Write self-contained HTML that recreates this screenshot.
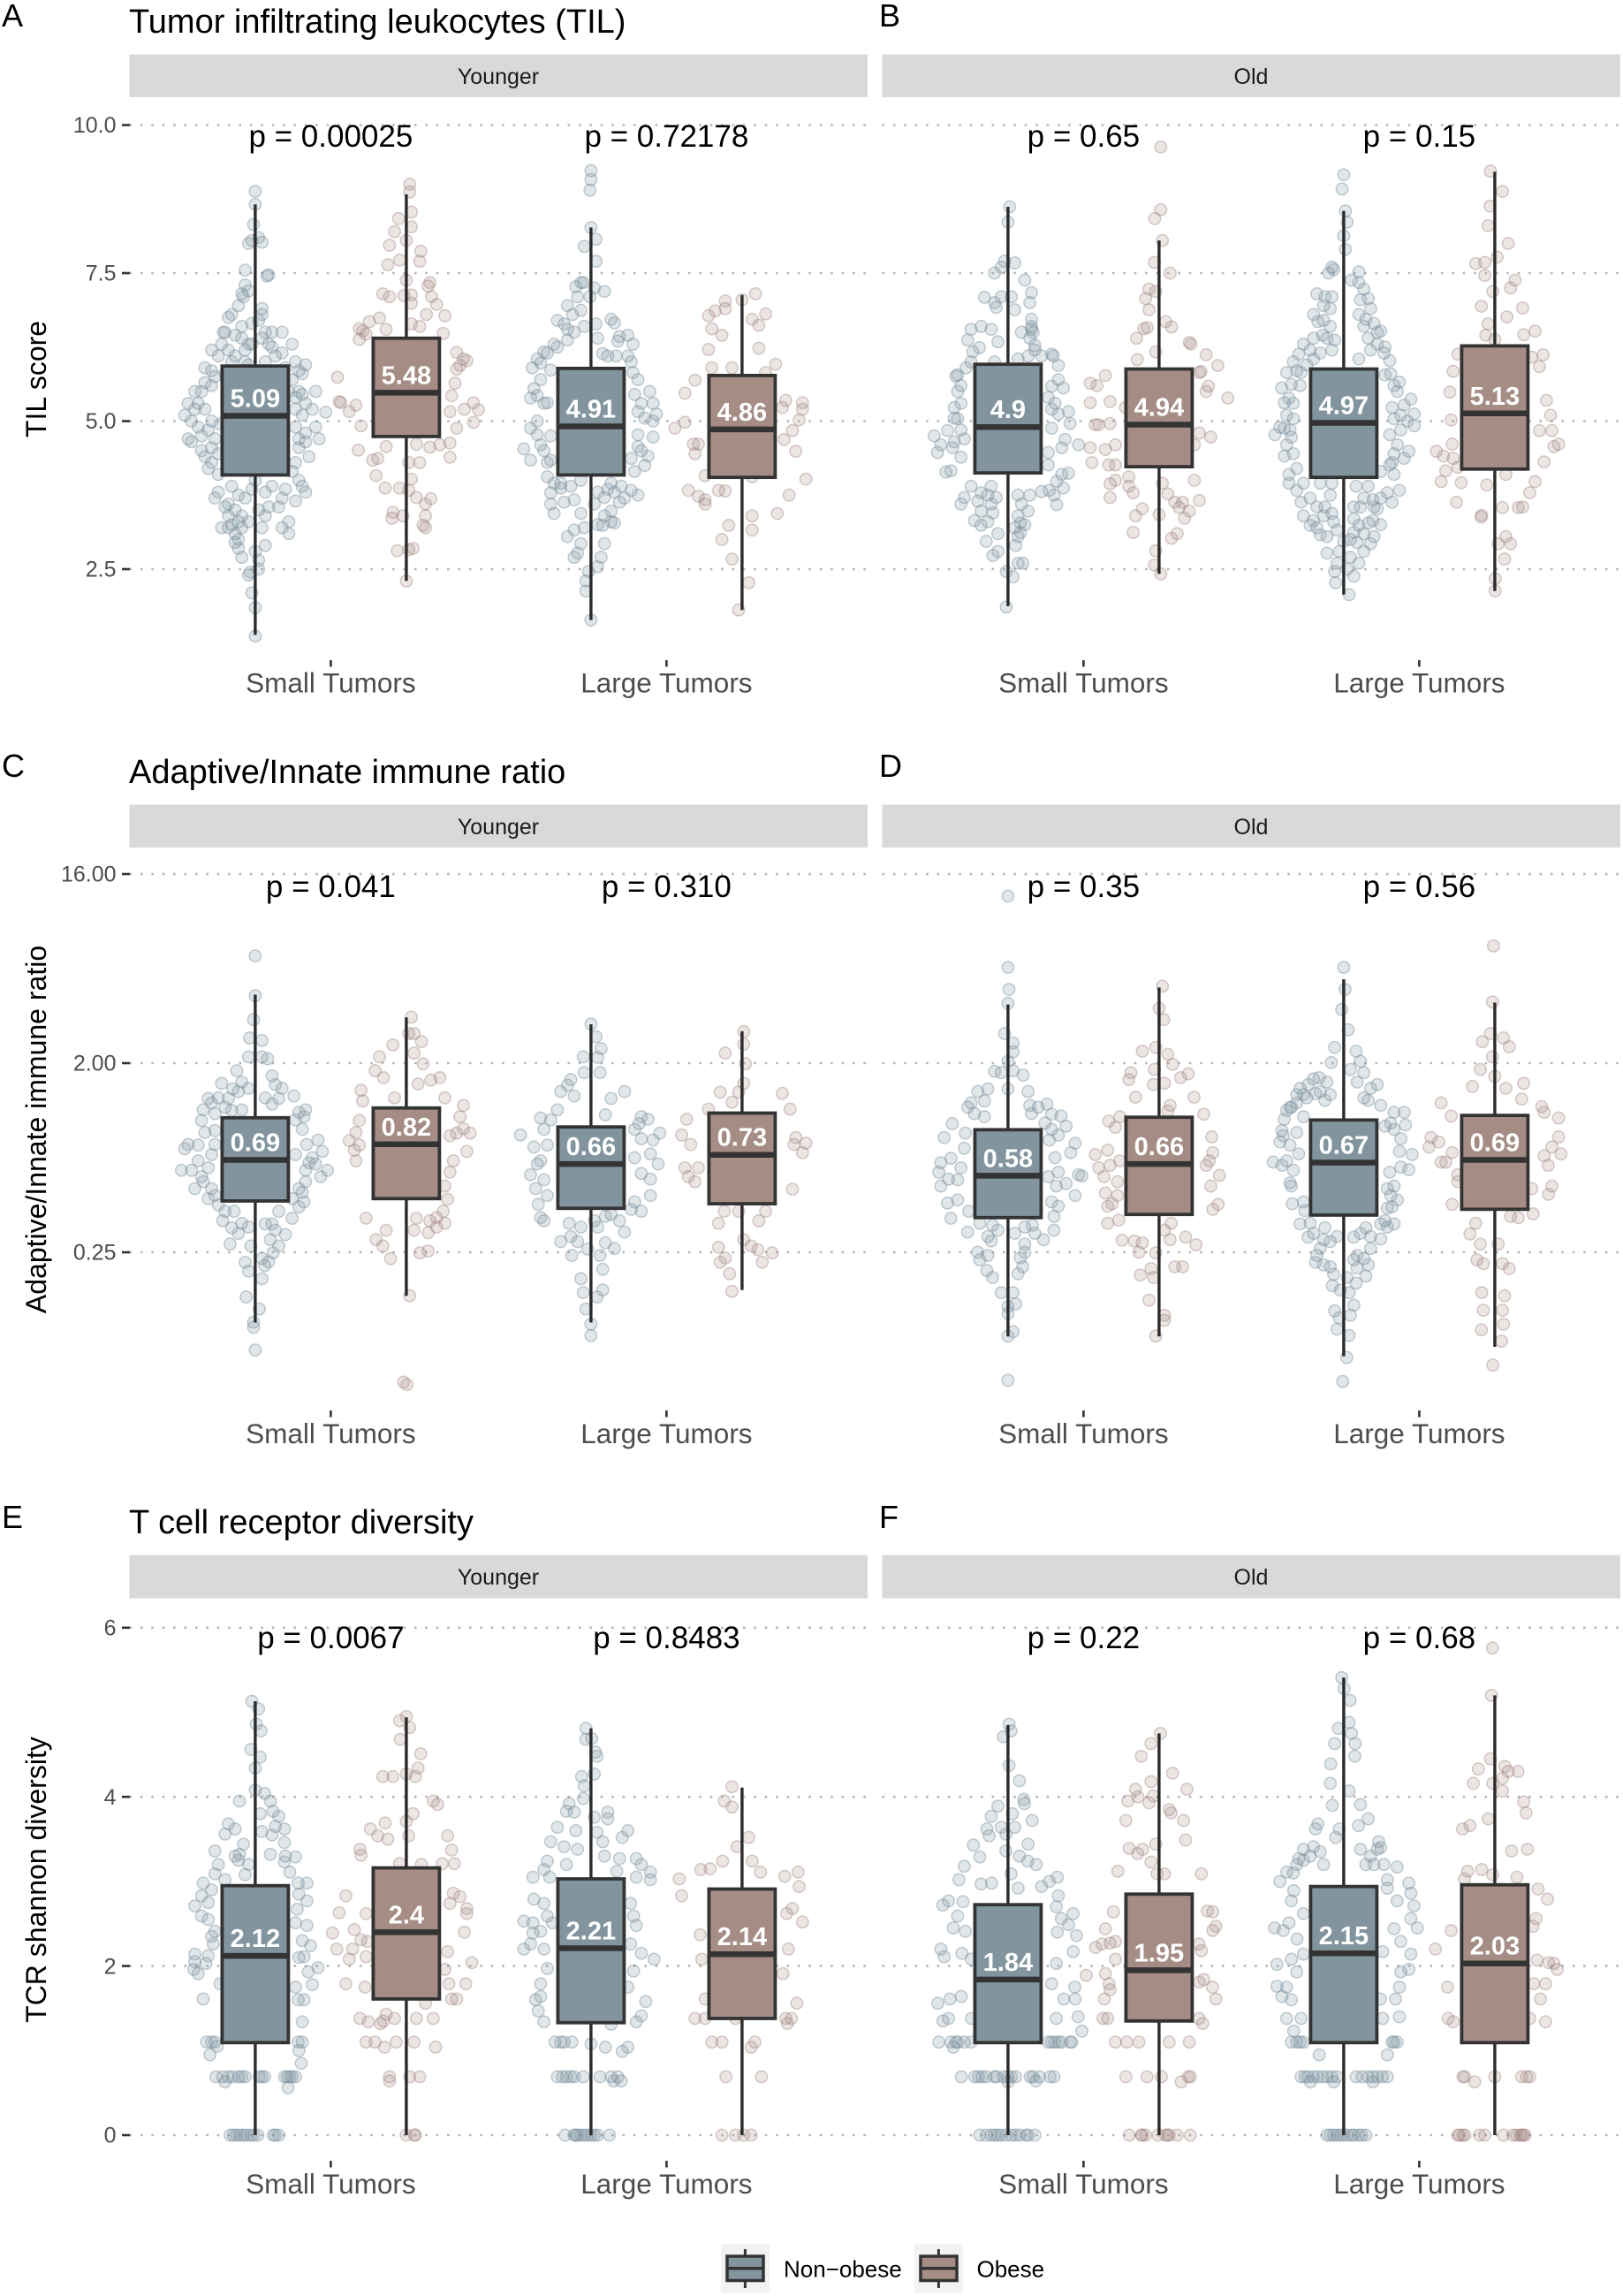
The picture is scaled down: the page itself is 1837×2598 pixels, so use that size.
<!DOCTYPE html>
<html lang="en">
<head>
<meta charset="utf-8">
<title>TIL, immune ratio and TCR diversity by obesity</title>
<style>
html,body{margin:0;padding:0;background:#fff}
svg{display:block}
text{font-family:"Liberation Sans",sans-serif}
</style>
</head>
<body>
<svg id="chart" width="1837" height="2598" viewBox="0 0 1837 2598">
<rect x="0" y="0" width="1837" height="2598" fill="#fff"/>
<g font-size="36" fill="#000">
<text x="2" y="30">A</text>
<text x="995" y="30">B</text>
<text x="2" y="879">C</text>
<text x="995" y="879">D</text>
<text x="2" y="1729">E</text>
<text x="995" y="1729">F</text>
</g>
<g font-size="38" fill="#000">
<text x="146" y="37">Tumor infiltrating leukocytes (TIL)</text>
<text x="146" y="886">Adaptive/Innate immune ratio</text>
<text x="146" y="1735">T cell receptor diversity</text>
</g>
<g font-size="25" fill="#1a1a1a" text-anchor="middle">
<rect x="146.5" y="61.5" width="835.5" height="48.5" fill="#d9d9d9"/>
<rect x="998.5" y="61.5" width="835.5" height="48.5" fill="#d9d9d9"/>
<text x="564" y="95">Younger</text>
<text x="1416" y="95">Old</text>
<rect x="146.5" y="910.5" width="835.5" height="48.5" fill="#d9d9d9"/>
<rect x="998.5" y="910.5" width="835.5" height="48.5" fill="#d9d9d9"/>
<text x="564" y="944">Younger</text>
<text x="1416" y="944">Old</text>
<rect x="146.5" y="1759.5" width="835.5" height="49" fill="#d9d9d9"/>
<rect x="998.5" y="1759.5" width="835.5" height="49" fill="#d9d9d9"/>
<text x="564" y="1793">Younger</text>
<text x="1416" y="1793">Old</text>
</g>
<g font-size="32" fill="#000" text-anchor="middle">
<text transform="translate(52,429) rotate(-90)">TIL score</text>
<text transform="translate(52,1278) rotate(-90)">Adaptive/Innate immune ratio</text>
<text transform="translate(52,2127) rotate(-90)">TCR shannon diversity</text>
</g>
<g id="plots"></g>
<g>
<g>
<rect x="816" y="2539.5" width="55" height="55" fill="#f2f2f2"/>
<line x1="843.4" x2="843.4" y1="2545" y2="2589" stroke="#333" stroke-width="3"/>
<rect x="823" y="2553" width="41" height="27.5" fill="#82959f" stroke="#333" stroke-width="3.5"/>
<line x1="823" x2="864" y1="2566.7" y2="2566.7" stroke="#333" stroke-width="3.5"/>
<text x="887" y="2576.5" font-size="26" fill="#000">Non−obese</text>
</g>
<g>
<rect x="1035" y="2539.5" width="55" height="55" fill="#f2f2f2"/>
<line x1="1062.4" x2="1062.4" y1="2545" y2="2589" stroke="#333" stroke-width="3"/>
<rect x="1042" y="2553" width="41" height="27.5" fill="#a58d85" stroke="#333" stroke-width="3.5"/>
<line x1="1042" x2="1083" y1="2566.7" y2="2566.7" stroke="#333" stroke-width="3.5"/>
<text x="1105.5" y="2576.5" font-size="26" fill="#000">Obese</text>
</g>
</g>
</svg>
<script>
// ---------- categories and axis labels ----------
const categories = ['Small Tumors', 'Large Tumors'];
const tilTicks = [2.5, 5, 7.5, 10];
const tilTickLabels = ['2.5', '5.0', '7.5', '10.0'];
const ratioTicks = [-2, 1, 4]; // log2 units
const ratioTickLabels = ['0.25', '2.00', '16.00'];
const tcrTicks = [0, 2, 4, 6];
const tcrTickLabels = ['0', '2', '4', '6'];

// ---------- summary values; order: small non-obese, small obese, large non-obese, large obese ----------
const tilYoungerMedians = [5.09, 5.48, 4.91, 4.86];
const tilYoungerQ1 = [4.09, 4.74, 4.09, 4.05];
const tilYoungerQ3 = [5.93, 6.40, 5.89, 5.77];
const tilYoungerLow = [1.39, 2.30, 1.64, 1.81];
const tilYoungerHigh = [8.66, 8.83, 8.27, 7.13];
const tilYoungerP = ['p = 0.00025', 'p = 0.72178'];
const tilOldMedians = [4.9, 4.94, 4.97, 5.13];
const tilOldQ1 = [4.125, 4.23, 4.05, 4.19];
const tilOldQ3 = [5.96, 5.88, 5.88, 6.27];
const tilOldLow = [1.875, 2.42, 2.07, 2.13];
const tilOldHigh = [8.62, 8.05, 8.55, 9.21];
const tilOldP = ['p = 0.65', 'p = 0.15'];

// ratio quartiles and whiskers are log2 values; medians are the printed ratio values
const ratioYoungerMedians = [0.69, 0.82, 0.66, 0.73];
const ratioYoungerQ1 = [-1.186, -1.149, -1.303, -1.23];
const ratioYoungerQ3 = [0.134, 0.289, -0.012, 0.208];
const ratioYoungerLow = [-3.115, -2.69, -3.115, -2.60];
const ratioYoungerHigh = [2.086, 1.726, 1.616, 1.506];
const ratioYoungerP = ['p = 0.041', 'p = 0.310'];
const ratioOldMedians = [0.58, 0.66, 0.67, 0.69];
const ratioOldQ1 = [-1.45, -1.40, -1.41, -1.318];
const ratioOldQ3 = [-0.056, 0.142, 0.098, 0.171];
const ratioOldLow = [-3.335, -3.335, -3.65, -3.5];
const ratioOldHigh = [1.93, 2.20, 2.33, 1.96];
const ratioOldP = ['p = 0.35', 'p = 0.56'];

const tcrYoungerMedians = [2.12, 2.4, 2.21, 2.14];
const tcrYoungerQ1 = [1.094, 1.61, 1.33, 1.38];
const tcrYoungerQ3 = [2.95, 3.16, 3.03, 2.91];
const tcrYoungerLow = [0, 0, 0, 0];
const tcrYoungerHigh = [5.13, 4.94, 4.81, 4.11];
const tcrYoungerP = ['p = 0.0067', 'p = 0.8483'];
const tcrOldMedians = [1.84, 1.95, 2.15, 2.03];
const tcrOldQ1 = [1.094, 1.35, 1.094, 1.094];
const tcrOldQ3 = [2.725, 2.85, 2.94, 2.96];
const tcrOldLow = [0, 0, 0, 0];
const tcrOldHigh = [4.85, 4.75, 5.41, 5.2];
const tcrOldP = ['p = 0.22', 'p = 0.68'];

// ---------- observations: flat pairs of jitter (% of category step), value ----------
const tilYoungerSmallNon = [0,8.88,0,8.66,-.5,8.32,1,8.1,2,8.02,-2,8,-1,8.05,-3,7.55,4,7.47,3.5,7.45,-3,7.3,-4,7.15,-3.5,7.1,-2,7.2,2,6.9,-5,6.95,2,6.8,-7,6.8,-8,6.75,-1,6.65,-9.5,6.5,-9,6.5,2,6.4,3,6.5,5,6.5,8,6.5,-1,6.3,-4,6.4,4,6.3,-2,6.3,11,6.3,-8,6.2,-13,6.2,-11,6.1,-6,6.1,-3,6.2,6,6.1,8,6.15,12,6,15,5.95,-15,5.9,-13,5.85,-7,6,-3,6,3,6,9,5.9,13,5.85,14,5.8,-9,5.8,-18,5.5,-16,5.5,13,5.5,18,5.5,15,5.3,12,5.4,-20,5.3,-17,5.3,-15,5.2,14,5.1,21,5.15,17,5.2,-21,5.1,-19,5,-13,5,-10.5,4.95,18,4.9,12,4.9,-20,4.7,-19,4.65,19,4.7,15,4.8,-12,4.7,-16,4.5,-15,4.4,13,4.55,16,4.4,12,4.3,-13,4.3,-11,4.1,13,4,14,3.9,15,3.8,-11,3.8,-12,3.7,-8,3.6,-9,3.55,5,3.9,0,4,3,3.8,8,3.7,-3,3.7,1,3.5,-8,3.2,-10,3.2,10,3.3,8,3.2,10,3.1,-6,3.1,-2,3.3,2,3.2,3,3.4,-6,2.95,-5,2.85,-4,2.7,0,2.8,3,2.9,1,2.65,1,2.5,-2,2.4,-1.5,2.45,-1,2.1,0,1.85,0,1.37,-15,5.65,-13,5.6,-12,5.75,-18,5.2,-14,4.85,-17,4.9,-16,4.75,-13,4.55,-14,4.2,-11,4.45,12,5.2,14,5.45,13,4.7,15,4.65,11,4.15,12,3.65,9,3.85,7,3.55,4,3.55,-6,3.5,-5,3.75,-1,3.85,-7,3.9,-4,3.4,-8,3.4,-6,6.45,-4,6.6,1,6.7,-10,6.3,5,6.25,-2,5.95,11,5.7,10,5.5,-5,3,-7,3.25,-5,3.3,-4,3.2];
const tilYoungerSmallObese = [1,9,1,8.87,-2.3,8.42,1.5,8.53,1.5,8.28,-3.5,8.2,0,8.05,-5,7.97,4.3,7.87,4,7.7,-2,7.72,-5.5,7.64,0,7.38,7,7.34,6.5,7.28,-7,7.15,-5,7.1,-.7,7.12,1.5,7.13,7.5,7.1,9,6.97,1.5,6.99,6,6.8,11.5,6.78,-8,6.74,-11,6.68,1.5,6.64,4,6.6,-14,6.56,-13,6.52,-12,6.47,-6,6.55,11,6.48,-14,6.38,15,6.16,18,6.02,17,6.05,16,5.94,15,5.88,-20.5,5.74,14.5,5.64,13.5,5.43,-20,5.33,-19.5,5.31,-15,5.27,20,5.31,17.3,5.2,21.5,5.19,-17,5.16,13,5.16,-13.5,4.92,20,4.98,15,4.88,-14.3,4.51,-6,4.57,-8.5,4.37,-10,4.34,3,4.61,7,4.56,10,4.6,13,4.63,13,4.39,4,4.3,.7,4.3,-9,4.08,1.5,4.02,-6.3,3.87,-2,3.87,.7,3.83,3,3.71,7.3,3.69,5.7,3.6,-4,3.46,5.7,3.4,-4.3,3.36,-1,3.4,5,3.24,5.7,3.2,2,2.85,-2.7,2.81,.7,2.83,0,2.3];
const tilYoungerLargeNon = [0,9.23,0,9.08,-.3,8.9,0,8.27,1.5,8.07,-2,7.95,1.5,7.7,-3,7.34,-4.5,7.27,-2.3,7.34,4,7.19,-.3,7.1,-7,6.95,-5.5,6.8,-3,6.87,-10,6.7,-8,6.64,6,6.72,7,6.66,-7,6.55,-2,6.6,1.5,6.64,2,6.4,8.5,6.43,11,6.45,-11,6.3,-7,6.37,12.5,6.3,-14,6.17,-10,6.25,7.5,6.1,3.5,6.14,-15,5.98,-17.5,5.9,-12,5.86,12,6,12.5,5.82,14,5.7,17.5,5.5,-16,5.43,-18,5.39,18.5,5.3,-13,5.31,19.5,5.12,14,5.16,18.5,5,-18,4.88,-16,4.77,18.5,4.73,14,4.77,-20,4.53,-14,4.5,17,4.41,14,4.57,-18,4.34,-12,4.34,12,4.37,-13,4.06,-3,4,-9,3.87,6,3.95,12,3.83,14,3.75,-12,3.79,-5,3.67,4,3.71,8.5,3.63,-8,3.63,-12,3.6,-11,3.44,-3,3.44,6,3.48,3.5,3.24,7,3.28,-5,3.16,-7,3.05,4,2.93,-3,2.93,-4,2.77,-5,2.7,3,2.7,2,2.54,-.7,2.46,-1.5,2.3,-1.5,2.13,0,1.64,-16,6.05,-13,6.15,-15,5.7,-17,5.55,-14,5.3,-16,5,-12,4.75,-15,4.6,-13,4.3,-11,3.95,-9,3.95,-6,3.9,2,3.8,5,3.85,7,3.8,9,3.9,10,3.7,6,3.3,4,3.4,2,3.25,-2,3.2,1,3.6,15,5.3,16,5.05,13,5.45,15,4.5,16,4.25,13,4.15,11,6.1,8,6.35,5,6.1,-5,6.5,-4,7.1,1,7.25];
const tilYoungerLargeObese = [4,7.15,0,7.05,-5,7.03,-8,6.86,-5,6.9,-10,6.78,7,6.81,3,6.72,5,6.62,-9,6.56,-6,6.45,-10,6.21,5,6.23,-3,5.9,-9,5.9,10,5.96,7,5.82,-14,5.69,-17,5.47,13,5.35,18,5.31,12,5.23,18,5.2,-20,4.88,-17,4.98,17,5.02,15,4.84,12.5,4.69,-14.5,4.61,-13,4.61,-14,4.45,16,4.49,-11,4.08,19,4.02,3,4.06,-16,3.83,-13,3.73,-7,3.83,-5,3.82,-11,3.67,14,3.75,-11,3.6,10.5,3.44,3,3.4,-4,3.24,3,3.16,-6,3,-3,2.67,2,2.27,-1,1.81];
const tilOldSmallNon = [.5,8.62,0,8.36,-1,7.7,2,7.67,-2,7.6,-4,7.5,5,7.38,-2,7.1,1,7.1,7,7.17,-7,7.09,6.5,7,-4,7,-3.5,6.92,2,6.88,7,6.72,-11,6.55,-8,6.6,-5,6.55,7,6.55,-12,6.37,4,6.5,8,6.28,-3,6.34,-8.5,6.24,-10.5,6.17,13,6.13,13.5,6.1,3,6.05,-4,6,15,5.94,-15,5.78,-15.5,5.76,15,5.7,-14,5.6,16.5,5.56,13,5.59,-16,5.23,18,5.16,15,5.12,-15,5.04,18.5,4.96,-18,4.84,-22,4.75,-13,4.7,-20,4.6,13,4.88,17,4.69,21,4.6,-16.5,4.55,-21,4.47,16,4.55,12,4.47,-14,4.39,12,4.26,-17,4.16,-18.5,4.14,16,4.1,18,4.12,14.5,3.98,-5,3.9,12.3,3.83,16.5,3.87,13.7,3.75,10,3.81,-8,3.79,-13,3.71,-14,3.6,-3.5,3.71,6.5,3.75,-8,3.48,14.5,3.59,6,3.48,-4.5,3.45,3,3.4,-10,3.32,3.7,3.28,-8,3.24,3.7,3.12,-6.5,2.97,2.3,2.9,-4.5,2.73,-3,2.8,4.4,2.6,3,2.6,-.5,2.46,1.5,2.37,-.5,1.86,-15,5.5,-14,5.3,-16,5.05,-14,4.85,-16,4.65,-12.5,5.9,-11,6,7,6.6,7.5,6.5,6.5,6.4,8,6.2,6,6.1,10,6.1,12,5.4,14,5.3,13,5.2,-11,3.9,-9,3.65,-6,3.75,-5,3.6,4,3.6,3,3.75,5,3.25,2,3.2,3,3.05,-6,3.3,-3,3.1];
const tilOldSmallObese = [.5,9.63,.5,8.57,-1.3,8.42,1,8.05,-1.4,7.68,3.3,7.5,-3,7.23,-1,7.19,-4,7.07,-3,6.88,2,6.68,-4.5,6.56,-3.5,6.58,3.7,6.59,-6.7,6.4,9,6.33,9.5,6.3,14,6.12,-1,6.17,-6.5,6.04,17.5,5.94,12.5,5.84,12,5.82,-16,5.77,-18.5,5.6,-20.5,5.64,14.7,5.59,14,5.5,20.5,5.39,-20.5,5.31,-14.6,5.33,-10,5.23,-18,4.94,-19,4.94,-14.6,4.96,12,4.8,15.4,4.73,-13,4.6,-20.5,4.55,-16,4.52,10.5,4.6,-20,4.3,-13,4.26,-15,4.26,-9,4.06,-13,4,10.5,4,-14.6,3.94,-9,3.9,1,3.95,2.6,3.77,-14.6,3.71,-7.7,3.79,12,3.66,4.7,3.63,7,3.63,6,3.54,9,3.48,-5,3.52,-7,3.4,7.6,3.36,0,3.42,-7.7,3.12,5.4,3.1,3.7,3.02,-1,2.81,-1.4,2.57,.5,2.42];
const tilOldLargeNon = [0,9.16,-.5,8.92,.5,8.55,1,8.36,0,8.13,.5,7.9,-3.5,7.6,-4.5,7.5,-3,7.56,4.5,7.52,2.3,7.38,4.5,7.34,-5.6,7.1,-3.5,7.1,6,7.23,7.3,7.07,-9,6.8,-4,6.9,8,6.9,4.5,6.8,6.6,6.72,-7.7,6.68,-4,6.6,6,6.6,11,6.52,-6.3,6.45,-2.7,6.37,7.3,6.4,10,6.3,-12,6.3,-3.5,6.2,12.3,6.25,-13.4,6.13,4.5,6.05,-15,6,-9,6.05,13.7,6.02,-17,5.82,-12.7,5.82,12.3,5.78,16.6,5.66,-18.5,5.56,-15.6,5.62,16,5.5,-16.3,5.39,-17.7,5.31,20,5.37,14.4,5.23,18,5.27,21,5.12,-15,5.04,15,5.04,-17.7,4.88,21,4.92,-20.5,4.77,-15.6,4.73,13.7,4.77,-17,4.6,19.4,4.49,-17.7,4.41,13.7,4.26,18,4.37,14.4,4.3,-16.3,4.1,11,4.15,15,4.1,-16.3,3.95,-7,3.95,7.3,3.9,-14,3.83,16.6,3.83,13,3.79,-3.5,3.95,3.7,3.9,-12.7,3.63,-4,3.75,8.7,3.67,14.4,3.63,-5.6,3.55,-9,3.32,3,3.55,10,3.52,8.7,3.32,-10,3.24,4.5,3.24,-3.5,3.44,-7,3.08,7.3,3.28,-2,3.16,3,3.12,0,2.97,8,2.93,6,2.8,-5,2.77,-1.3,2.8,4.5,2.6,-2.7,2.46,3,2.38,-2.4,2.27,1.6,2.07,-8,7.15,-6,6.95,-6,6.7,-5,6.4,-9,6.4,-10,6.2,-7,6.15,-14,5.85,-11,5.95,-13,5.6,-15,5.3,-17,5.1,-19,4.9,-16,4.85,-15,4.45,-14,4.2,-12,3.95,-10,3.7,-8,3.55,-12,3.4,-8,3.2,-6,3.4,-5,3.05,-3,3.3,-2,2.6,2,2.7,3,3.35,5,3.55,6,3.7,9,3.55,11,3.7,11,3.25,6,3.1,9,3.05,4,2.95,2,3,14,5.8,15,5.6,17,5.1,19,5,17,4.85,16,4.6,15,4.45,12,6.15,10,6.5,9,6.65,5,7.05,8,6.2,1,2.5];
const tilOldLargeObese = [-1.3,9.22,2.3,8.88,-1.4,8.63,-2,8.3,4,8,.7,7.77,-5.7,7.66,-3,7.68,-3,7.46,6,7.38,-.6,7.19,4.7,7.25,-4,6.94,8.3,6.91,3.6,6.76,-2,6.64,-2.7,6.45,8.6,6.46,12,6.52,0,6.38,-11,6.13,11,6.08,14.4,6.12,13.3,5.92,-12.4,5.84,-13.4,5.49,-13,5.02,15.4,5.35,16.6,5.1,13.3,4.84,17,4.84,17.6,4.57,19,4.61,-17.4,4.49,-15.3,4.41,-12.7,4.61,-12.4,4.37,14.7,4.31,-14.6,4.16,-16,3.98,-11,4.22,-10,3.96,12,3.98,10.4,3.79,-2.4,3.92,3.3,4.1,-11.4,3.63,2.3,3.54,7,3.54,8.3,3.55,-3.9,3.41,-4.1,3.38,3.3,3.05,1,2.93,4.7,2.93,2.9,2.67,.1,2.34,.1,2.13];

// ratio observations: value is log2(ratio)
const ratioYoungerSmallNon = [0,2.7,0,2.07,-.5,1.69,-1.7,1.4,2,1.36,3.7,1.07,2,1.1,-2,1.1,-5.5,.88,5,.8,-4,.7,-10,.68,6,.66,-6.7,.59,-14,.44,-13,.37,-8,.44,7,.44,11.5,.48,-9,.3,-4,.26,-15.5,.26,13,.22,15,.26,-16,.09,14.5,.15,-12,-.07,18.7,-.22,-20,-.29,-21,-.36,15.3,-.29,-12,-.29,-17,-.55,20,-.4,-22,-.7,-19,-.7,-14,-.66,21.5,-.7,16,-.58,19.5,-.8,-15.5,-.88,15,-.88,-18,-.99,-13,-.99,13,-.99,-11,-1.25,14.5,-1.2,13,-1.28,-6.3,-1.35,7,-1.35,11,-1.46,-9.7,-1.5,-7,-1.61,-4,-1.54,6,-1.65,9,-1.72,-7.5,-1.87,4.5,-1.8,-1.3,-1.9,5.3,-2.01,-3,-2.16,2.8,-2.21,-2,-2.3,2,-2.42,-2.7,-2.71,1.2,-2.9,-.5,-3.11,-.5,-3.19,0,-3.55,-15,-.1,-17,-.3,-13,-.45,-16,-.8,-12,.2,-11,.45,-5,.55,-7,.25,-2,.6,3,.45,5,.35,8,.6,12,.1,14,-.05,17,-.5,18,-.6,15,-.7,12,-.45,14,-1.05,11,-1.15,-14,-1.15,-12,-1.1,-9,-1.35,-5,-1.7,-2,-1.6,3,-1.55,5,-1.55,7,-1.9,2,-2.1,4,-2.15];
const ratioYoungerSmallObese = [1.5,1.73,.7,1.47,2.3,1.47,4.5,1.34,-4,1.29,-8,1.1,2.3,1.16,5,.99,-9.3,.88,-6.8,.77,10,.77,7.3,.73,3.5,.67,-13.5,.57,-3.5,.45,-13,.4,11.5,.45,17,.33,16,.15,-14,.09,17,-.04,19,-.11,15,-.11,-17,-.23,-15.5,-.38,-15,-.55,18,-.4,13,-.73,11.5,-.95,12.3,-1.16,-12,-1.46,3,-1.46,-6,-1.65,2.3,-1.65,6.5,-1.69,11.5,-1.54,-9,-1.8,-7,-1.9,-4.7,-2.1,4,-2.01,6.5,-1.98,1,-2.69,-.8,-4.06,.2,-4.1,-15,-.1,-14,-.3,13,-.15,14,-.55,9,-1.45,7,-1.5,9,-1.6,11,-1.35];
const ratioYoungerLargeNon = [0,1.62,1.5,1.42,3,1.23,-2.3,1.1,2,1.09,-2,.85,2.7,.85,-6,.74,-9,.55,-5,.48,10,.55,6,.44,-10,.26,15,.15,4.3,.18,-15,.13,17,.11,14.3,.04,20.5,-.11,-21,-.14,-17,-.33,18.5,-.22,17.7,-.44,20,-.6,-15,-.55,-18,-.77,17.7,-.84,-16.5,-.99,17.7,-1.1,-15.7,-1.24,12,-1.32,-14,-1.5,4.3,-1.43,8.5,-1.5,-6.5,-1.54,2,-1.6,-9,-1.83,-4,-1.83,10,-1.68,4.3,-1.85,7,-1.94,-5.7,-2.05,2.7,-2.05,3.5,-2.27,-3,-2.42,3.5,-2.6,-2.3,-2.64,1.8,-2.71,-1.5,-2.9,0,-3.14,0,-3.32,-7,.65,-12,.1,-14,-.05,-13,-.3,-16,-.6,-14,-.85,-13,-1.1,-15,-1.45,13,-.05,15,-.2,13,-.5,15,-.75,13,-1.2,15,-1.35,6,-1.4,1,-1.5,-3,-1.6,-6,-1.75,-1,-1.95];
const ratioYoungerLargeObese = [.5,1.5,.5,1.3,-5,1.16,1,.99,.5,.68,12,.52,-6.5,.54,-1,.54,-3,.38,14.3,.27,-10,.27,-16.5,.11,-18,-.14,16,-.18,19,-.27,15.5,-.29,-15.3,-.29,18,-.42,-13,-.66,-17,-.66,-16,-.8,-14,-.88,15,-1,7,-1.35,-5.3,-1.35,-1,-1.35,-7,-1.54,5,-1.5,.5,-1.8,2.7,-1.9,-7,-1.92,4.7,-1.96,9,-2.01,-5,-2.09,-6.5,-2.16,6,-2.16,-3.7,-2.34,-3,-2.62];
const ratioOldSmallNon = [0,3.65,0,2.52,.3,2.17,0,1.95,-1,1.47,1.5,1.32,1.5,1.18,0,1.03,-4,.87,-2,.85,1.5,.88,4.5,.81,0,.59,-9,.55,-6,.59,6,.55,-11,.37,-12,.3,11.6,.35,6.5,.33,13,.19,15.8,.16,-16.6,.04,-12.7,-.11,17.3,0,15,-.14,-19,-.18,20,-.27,12.3,-.22,18.7,-.42,-17,-.51,-20,-.58,-14,-.66,-20.6,-.73,21,-.77,22,-.79,15,-.73,-17.7,-.84,-20,-.95,17.3,-.91,14.4,-.95,-15,-1.17,-18,-1.22,20,-1.1,13,-1.2,15,-1.27,-11.7,-1.35,13.7,-1.43,-17,-1.46,-8.4,-1.54,7.3,-1.57,-4.6,-1.57,-12,-1.68,13.7,-1.65,10.6,-1.8,-5,-1.82,5,-1.87,-9,-2,3.7,-2.09,-8.4,-2.12,4.4,-2.23,-6.3,-2.29,-4.6,-2.4,3,-2.34,-2,-2.64,1.5,-2.64,0,-2.86,2.3,-2.82,0,-2.97,1.5,-3.26,0,-3.33,0,-4.03,-7,.4,-10,.2,-7,.15,7,.2,9,.3,11,.05,13,-.05,14,-.5,12,-.8,-15,-.85,-13,-.35,-6,-1.75,-3,-1.65,2,-1.7,5,-1.6,8,-1.7,-6,-2.05,5,-2.0];
const ratioOldSmallObese = [1,2.22,0,1.87,1.4,1.69,-1,1.25,-5,1.19,2.6,1.14,4,.98,-8.4,.85,-9,.74,-1.4,.9,8.7,.83,6.4,.77,-1.7,.66,1.6,.68,-7,.46,10.4,.46,3.3,.33,2.6,.24,13.3,.19,-15,.08,-13,-.02,-11.7,.15,15.7,-.17,-19,-.45,-15.3,-.38,16,-.42,15,-.55,-14.6,-.62,-11.7,-.55,-18,-.66,14,-.62,-16.4,-.8,18,-.78,-12.4,-.88,15.4,-.95,-16,-1.06,-12.4,-1.1,-15.3,-1.27,-14,-1.23,17.6,-1.24,16,-1.32,-15.3,-1.54,-12,-1.49,3.6,-1.54,1.6,-1.65,-11,-1.81,-7.4,-1.82,-5,-1.85,3.3,-1.8,7.9,-1.76,11,-1.88,-6,-2,-1,-2.01,4.7,-2.23,7,-2.23,-2.4,-2.26,-5.6,-2.36,-1.7,-2.4,-3,-2.76,1.6,-3,1.6,-3.08,-1,-3.33];
const ratioOldLargeNon = [0,2.52,.4,2.17,-.6,1.85,1.3,1.53,-2.7,1.25,3.7,1.19,-3.7,1.01,5,1.03,6,.85,-7.3,.77,10,.66,-10.6,.66,-8.4,.52,7.3,.41,11,.33,-14,.37,-15.6,.3,-5.6,.41,-17.7,.11,18,.22,15,.22,18.4,.02,-18.4,-.07,12.3,0,-19,-.25,-13.4,-.44,16.6,-.4,20.4,-.45,-21,-.57,-18.4,-.62,19.4,-.69,-15,-.7,13.7,-.73,13,-.99,-15.6,-.95,16,-1.17,-15.3,-1.23,14.4,-1.28,-11.6,-1.34,12.3,-1.5,11,-1.55,-10,-1.54,-5.6,-1.61,6.6,-1.61,-10.6,-1.76,11,-1.79,3,-1.76,-7,-1.94,-4,-1.83,8,-1.94,-8.4,-2.16,7.3,-2.2,-4,-2.23,3,-2.12,6.6,-2.38,-3.4,-2.53,3.7,-2.49,1.6,-2.64,-2.7,-2.93,3,-2.84,-1.3,-3.04,-2,-3.22,1.6,-3.32,.9,-3.67,-.3,-4.05,-13,.6,-11,.45,-16,.3,-12,.15,-14,.5,14,.05,17,-.2,-16,-.9,-13,-1.55,13,-1.6,-12,-1.2,14,-1.1,-9,.75,-7,.55,-12,.5,-5,.7,-4,.5,2,.9,4,.7,8,.6,6,.45,-17,.25,-18,-.15,-16,-.3,-17,-.55,-14,-.1,15,-.05,17,-.65,15,-.95,13,-1.3,15,-1.55,-9,-1.7,-6,-1.8,-2,-1.75,5,-1.7,8,-1.75,-8,-2.05,-6,-2.2,4,-2.05,6,-2.1,-3,-2.35,1,-2.4,4,-2.25,-1,-2.6,2,-3];
const ratioOldLargeObese = [-.4,2.86,-.7,1.97,-1.3,1.47,2.6,1.4,-3.7,1.34,4.3,1.26,-.7,1.1,-4.3,.9,0,.79,-6.7,.63,8.6,.68,3.3,.6,-16,.37,8,.43,14,.31,14.7,.22,-13,.16,19,.13,-19,-.18,-16.7,-.25,-19.6,-.33,19,-.17,17,-.33,19.7,-.44,-12.7,-.42,-16,-.57,-14.6,-.57,14.7,-.47,15.9,-.62,-11,-.77,-11,-.88,11,-.99,17,-.95,16,-1.08,-12.7,-1.24,11.4,-1.39,4.7,-1.43,7,-1.45,-5.7,-1.54,-7.4,-1.71,-4.3,-1.87,1,-1.87,-5.3,-2.12,-3.4,-2.18,2.3,-2.18,4.3,-2.26,-3.9,-2.64,2.9,-2.69,-3.4,-2.92,2.3,-2.92,2.6,-3.14,-4,-3.23,2,-3.41,-.6,-3.79];

const tcrYoungerSmallNon = [-1,5.13,1,5.04,.3,4.86,1.7,4.78,-1.3,4.56,1.5,4.47,0,4.34,-4.7,3.95,0,4.08,2.8,4.04,4.5,3.95,1.5,3.8,5.3,3.83,7,3.77,8.7,3.62,-8,3.68,-6,3.62,-9,3.56,2,3.59,-12,3.36,-3.5,3.44,8.7,3.46,-4.7,3.32,4.5,3.32,12,3.29,8.7,3.23,10.3,3.11,-12,3.09,-3,3.08,15.4,2.98,12.8,2.98,-15.5,2.98,-9,3.02,15.4,2.77,-16,2.83,-18,2.71,-16,2.59,12.5,2.67,15.4,2.48,12,2.51,-12,2.41,-12.5,2.26,16.5,2.24,-18,2.14,-14,2.12,14.5,2.11,-18,2.05,-14.7,2.03,-18.3,1.96,-17,1.91,18.7,1.98,15.8,1.93,17,1.78,12,1.75,-10.5,1.79,-15.5,1.61,12.8,1.6,14.5,1.6,14,1.34,-13,1.1,-11.3,1.05,-14.5,1.1,12.8,1.1,-13.5,.95,13.7,.85,-11.7,.69,-9.7,.69,-6.8,.69,-5,.69,-9,.63,1.2,.69,2.8,.69,8.7,.69,10.3,.69,12,.69,9.8,.56,-7.5,0,-5.5,0,-3.5,0,-1.3,0,.8,0,5.3,0,7,0,-6.5,0,-4.5,0,-2.5,0,-.5,0,6,0,-8,.69,-4,.69,-3,.69,2,.69,9.5,.69,11,.69,13,1,-12,1.1,14,1.1,-11,3.2,-6,3.3,-5,3.25,-2,3.2,5,3.55,6,3.65,9,3.3,-13,2.9,-14,2.75,13,2.85,-14,2.55,-13,2.35,14,2.3,13,2.1];
const tcrYoungerSmallObese = [0,4.95,-2,4.9,1,4.82,-1.8,4.68,4.3,4.51,3.5,4.34,-7,4.24,-4,4.24,0,4.27,2.7,4.24,8,3.95,9.3,3.91,2,3.8,0,3.71,-6.3,3.69,-10.7,3.62,-8.5,3.54,.7,3.54,-5.5,3.5,12.3,3.54,-13.8,3.38,-13.5,3.31,13.5,3.37,-2,3.21,4.5,3.2,10.7,3.21,14.3,3.21,14,2.86,16,2.82,-18,2.83,13,2.74,-20,2.63,18,2.68,18,2.62,-12,2.62,-15.5,2.43,-22,2.39,17.3,2.4,-13.5,2.31,-11.5,2.29,-20.7,2.2,-16,2.2,12.3,2.17,-17,2.08,-12,2.11,19.5,2.04,11.5,1.96,-18,1.79,-12.3,1.75,12.7,1.79,17.7,1.79,13.5,1.61,15,1.61,5.7,1.56,-13.8,1.38,-11.3,1.34,-7.7,1.32,-6.8,1.35,-6,1.43,-3.5,1.38,3,1.38,8,1.38,-12,1.1,-9.3,1.1,-6.5,1.04,-3,1.1,2.3,1.1,8.7,1.04,-5,.69,-5,.64,1,.69,4,.69,0,0,2.7,0,2.4,0];
const tcrYoungerLargeNon = [-1.5,4.81,-1.5,4.68,.2,4.69,1.3,4.53,1.8,4.48,1,4.27,-2.8,4.24,-2,4.13,-2.3,3.98,-6.5,3.92,5,3.82,5,3.74,-7.3,3.83,-5,3.82,1,3.76,-10,3.64,11,3.6,-4.5,3.6,1.8,3.58,9.3,3.52,-12,3.47,3.5,3.47,-4,3.38,-8,3.41,4,3.3,8.5,3.27,-13,3.24,-7.3,3.2,13.5,3.27,15,3.2,17.7,3.11,-14,3.14,7.7,3.12,-17.3,3.05,17.7,3.02,-12.3,3.05,13.5,3.05,-17,2.79,-14,2.74,11.8,2.74,-13,2.59,-20,2.53,-17.3,2.51,12.7,2.59,13.5,2.48,-11.5,2.51,-15,2.41,-17.3,2.39,11.8,2.26,-18,2.26,-20,2.2,-14,2.2,15,2.15,18.8,2.08,-13,1.97,12.7,1.94,-15,1.79,-15,1.64,11,1.75,-16.5,1.6,16.3,1.58,-15.7,1.47,15,1.41,13.5,1.34,-14,1.34,6,1.31,-10.7,1.1,-5.7,1.1,0,1.08,4.3,1.04,9.3,.99,11,1.04,-10,.69,-7.3,.69,-5,.69,-2.3,.69,2.7,.69,6,.69,6.8,.64,9,.64,-7.7,0,-5,0,-3,0,-1,0,2,0,5.5,0,-4.5,0,-4,0,-2,0,0,0,1,0,-9,1.1,-8,1.1,-6,.69,-8.5,.69,8,.69];
const tcrYoungerLargeObese = [-3,4.12,-5.3,3.95,-3,3.88,2,3.52,-1.5,3.41,3,3.24,-5.8,3.24,-12.3,3.14,-9.5,3.15,5.5,3.11,-18.7,3.03,12.7,3.06,16.7,3.11,17,2.94,-18,2.83,15,2.68,13.3,2.62,18,2.52,-12.5,2.37,13.8,2.2,-12,2.08,12.2,1.91,-11,1.61,16.3,1.56,-14,1.38,-11,1.38,13,1.38,14.7,1.38,13.5,1.32,-2,1.38,-9,1.1,-6,1.1,3.8,1.1,2.7,1.04,-4.8,.69,5.8,.69,-6,0,-2,0,.5,0,2.7,0];
const tcrOldSmallNon = [.3,4.86,.9,4.78,-1.4,4.71,.3,4.37,3.4,4.19,4.7,3.97,-3,3.89,4.9,3.92,-5,3.77,1.3,3.8,7.2,3.72,-2,3.64,-6.3,3.62,2,3.64,-5.6,3.54,-.6,3.56,-10.3,3.43,6,3.44,-8.4,3.29,-.6,3.36,3.4,3.3,-13,3.18,8.4,3.2,5.9,3.24,.9,3.09,-14.6,3.02,14.7,3.05,-8,2.97,-4.9,2.98,12.3,3,3,2.92,10,2.94,15,2.83,-17.7,2.77,-19.4,2.72,-13.4,2.76,14.4,2.7,19.4,2.62,15.9,2.56,-15,2.59,-16.3,2.45,-12.7,2.41,18,2.49,14.7,2.4,20.4,2.36,-20,2.2,-19,2.11,-13.7,2.15,19.4,2.17,14.4,2.03,-10.9,2.08,13,1.79,19.9,1.75,-17.3,1.61,-13.9,1.64,-20.9,1.56,16.6,1.61,20,1.61,-19.4,1.35,-17.7,1.38,-10.9,1.38,14.4,1.38,20.9,1.4,22,1.23,-20.6,1.1,-17,1.1,-14.9,1.1,-11,1.1,-16.3,1.04,13,1.1,15.1,1.1,19,1.1,12,1.1,-13.9,.69,-9.9,.69,-7.7,.69,-3.4,.69,-1.3,.69,2.3,.69,6.6,.69,9.4,.69,13.7,.69,0,.63,8.3,.64,-8.4,0,-5,0,-3,0,-.6,0,2.3,0,5.4,0,8,0,-6.5,0,-4,0,-2,0,1,0,3.5,0,6,0,-8.8,.69,-6.5,.69,-4,.69,0,.69,1,.69,7.5,.69,12.5,.69,-15.5,1.1,-13,1.1,14,1.1,16,1.1,18.5,1.1];
const tcrOldSmallObese = [.4,4.75,-2.4,4.63,-5.3,4.48,4,4.28,-2.4,4.18,-7,4.09,8.3,4.09,-1.7,4.01,-9.3,3.95,-6.3,4,-3,3.93,3,3.85,3.6,3.81,7.3,3.72,-9.9,3.72,7.9,3.49,-1,3.44,-8.9,3.39,-4.9,3.38,-6.4,3.33,-2.4,3.23,-12.3,3.12,12.6,3.09,1.6,3.09,-.6,3.09,-13.6,2.64,14.4,2.65,16,2.64,-16,2.44,16.9,2.47,16,2.42,-18.9,2.22,-17,2.26,-14.6,2.27,-13,2.29,11.9,2.26,12.6,2.18,-13,2.08,-16,1.91,-21.7,1.89,-14.9,1.79,13.3,1.84,12,1.81,15.9,1.75,-14.6,1.72,16.9,1.61,-16.3,1.61,-16.7,1.38,-15.3,1.38,11.9,1.38,13,1.32,-13,1.1,-9.6,1.1,-6,1.1,3,1.1,9,1.1,-9.9,.69,-3.6,.69,.7,.69,9.3,.69,8.7,.69,6.6,.63,-8.9,0,-5.3,0,-.3,0,1.9,0,5.4,0,9.3,0,-5,0,-4,0,2.5,0,3,0];
const tcrOldLargeNon = [-.6,5.41,.1,5.28,1.9,5.14,1.6,4.88,-1.6,4.81,2.3,4.75,-2.7,4.63,3.4,4.63,3.3,4.48,-3.9,4.39,-4,4.16,1.6,4.07,-3.4,3.9,5,3.91,-1.3,3.62,-7.7,3.68,-8.4,3.62,7.3,3.74,4.4,3.66,-2.4,3.52,10.4,3.47,-9,3.41,-12,3.38,10,3.38,-7,3.35,-13.4,3.27,5,3.38,6.6,3.2,15.9,3.17,-17,3.11,-19,3,19.4,2.98,13,3.02,13,2.92,-14.9,2.89,-15.6,2.77,20,2.86,15.9,2.77,-12,2.62,-16.3,2.51,20.9,2.71,20,2.56,-20.6,2.45,-18,2.42,21.9,2.45,15,2.44,17,2.29,-13.9,2.32,-12,2.14,-15.6,2.08,20,2.14,11.6,2.17,-19.9,2.02,-14,1.93,19.4,1.96,17,1.93,-19.9,1.76,-17,1.75,16.6,1.75,-15.6,1.6,-18.4,1.64,15.4,1.61,10.9,1.61,-17,1.38,-12.7,1.38,16.6,1.4,11.6,1.38,-14.9,1.23,-15.6,1.1,-12,1.1,14.4,1.1,15.9,1.1,-7.3,.95,13,.95,-12.7,.69,-10.6,.69,-7.7,.69,-4.9,.69,-2,.69,3.7,.69,7.3,.69,10,.69,13,.69,-9.9,.63,-3,.63,8.7,.63,-4,0,-2,0,0,0,2.3,0,4.4,0,6.6,0,-3,0,-1,0,1,0,3,0,5.4,0,-5,0,-11.5,.69,-9,.69,-6.3,.69,-3.5,.69,5.5,.69,8.7,.69,11.5,.69,-14,1.1,-13,1.1,15,1.1,-15,3.1,-14,3.2,-12,3.25,-10,3.3,-6,3.2,8,3.3,9,3.2,11,3.4,12,3.2];
const tcrOldLargeObese = [-.7,5.76,-1,5.2,-1.3,4.45,3,4.36,-4.9,4.33,6.9,4.3,4,4.3,2.3,4.22,-6.4,4.16,-.6,4.16,2.3,4.07,8.6,3.94,9.3,3.81,-2,3.74,-7.4,3.66,-9.6,3.62,5,3.36,9.7,3.38,-8.1,3.12,-3.9,3.14,-9,3.03,-.6,3.08,6.6,3.05,12.9,2.91,15.7,2.79,12.3,2.56,11.4,2.47,-13,2.42,-17.7,2.2,12.6,2.07,16,2.04,17.6,2.03,18.6,1.96,11.6,1.79,-14.1,1.75,15.1,1.79,13.6,1.61,10.4,1.38,-13.9,1.38,-12.4,1.34,15.1,1.34,-9,.69,-6,.63,0,.69,8,.69,10.4,.69,-11,0,-8.9,0,-4.6,0,-3,0,2.6,0,5.4,0,7.6,0,9,0,-10.5,0,-9.5,0,6.5,0,8,0,8.5,0,-9.5,.69,9.5,.69];

// ---------- axis functions ----------
const facetOrigins = [374.4, 1226.4];
const facetLefts = [146.5, 998.5];
const facetRights = [982, 1834];
const categoryStep = 380;
const dodgeStep = 85.5;
const boxWidth = 75;
function xCategory(facet, category) { return facetOrigins[facet] + category * categoryStep; }
function xGroup(facet, series) { return xCategory(facet, Math.floor(series / 2)) + (series % 2 ? dodgeStep : -dodgeStep); }
function xJitter(facet, series, jitter) { return xGroup(facet, series) + jitter * categoryStep / 100; }
function yTil(v) { return 476.5 - (v - 5) * 67; }
function yRatio(v) { return 1203 - (v - 1) * 71.33; }
function yTcr(v) { return 2416 - v * 95.7; }
function identity(v) { return v; }

const panels = [
  { key: 'til', y: yTil, medianTransform: identity, ticks: tilTicks, tickLabels: tilTickLabels, axisY: 747, labelY: 783.5, pY: 166, facets: [
    { name: 'younger', medians: tilYoungerMedians, q1: tilYoungerQ1, q3: tilYoungerQ3, low: tilYoungerLow, high: tilYoungerHigh, p: tilYoungerP, points: [tilYoungerSmallNon, tilYoungerSmallObese, tilYoungerLargeNon, tilYoungerLargeObese] },
    { name: 'old', medians: tilOldMedians, q1: tilOldQ1, q3: tilOldQ3, low: tilOldLow, high: tilOldHigh, p: tilOldP, points: [tilOldSmallNon, tilOldSmallObese, tilOldLargeNon, tilOldLargeObese] } ] },
  { key: 'ratio', y: yRatio, medianTransform: Math.log2, ticks: ratioTicks, tickLabels: ratioTickLabels, axisY: 1596, labelY: 1633, pY: 1015, facets: [
    { name: 'younger', medians: ratioYoungerMedians, q1: ratioYoungerQ1, q3: ratioYoungerQ3, low: ratioYoungerLow, high: ratioYoungerHigh, p: ratioYoungerP, points: [ratioYoungerSmallNon, ratioYoungerSmallObese, ratioYoungerLargeNon, ratioYoungerLargeObese] },
    { name: 'old', medians: ratioOldMedians, q1: ratioOldQ1, q3: ratioOldQ3, low: ratioOldLow, high: ratioOldHigh, p: ratioOldP, points: [ratioOldSmallNon, ratioOldSmallObese, ratioOldLargeNon, ratioOldLargeObese] } ] },
  { key: 'tcr', y: yTcr, medianTransform: identity, ticks: tcrTicks, tickLabels: tcrTickLabels, axisY: 2445, labelY: 2482, pY: 1865, facets: [
    { name: 'younger', medians: tcrYoungerMedians, q1: tcrYoungerQ1, q3: tcrYoungerQ3, low: tcrYoungerLow, high: tcrYoungerHigh, p: tcrYoungerP, points: [tcrYoungerSmallNon, tcrYoungerSmallObese, tcrYoungerLargeNon, tcrYoungerLargeObese] },
    { name: 'old', medians: tcrOldMedians, q1: tcrOldQ1, q3: tcrOldQ3, low: tcrOldLow, high: tcrOldHigh, p: tcrOldP, points: [tcrOldSmallNon, tcrOldSmallObese, tcrOldLargeNon, tcrOldLargeObese] } ] }
];

const plots = document.getElementById('plots');
const NS = plots.namespaceURI;
function make(tag, attrs, parent, text) {
  const el = document.createElementNS(NS, tag);
  for (const k in attrs) el.setAttribute(k, attrs[k]);
  if (text !== undefined) el.textContent = text;
  parent.appendChild(el);
  return el;
}

const boxFills = ['#82959f', '#a58d85'];
const pointFills = ['rgba(130,152,164,0.24)', 'rgba(165,138,130,0.22)'];
const pointStrokes = ['rgba(112,136,150,0.4)', 'rgba(150,120,112,0.36)'];

panels.forEach(function (panel) {
  panel.facets.forEach(function (facet, f) {
    const group = make('g', {}, plots);
    
    

    panel.ticks.forEach(function (t, i) {
      const yp = panel.y(t);
      const grid = make('line', { x1: facetLefts[f], x2: facetRights[f], y1: yp, y2: yp, stroke: '#b5b5b5', 'stroke-width': 2.6, 'stroke-dasharray': '2.6 9.8' }, group);
      
      
      if (f === 0) {
        const tick = make('line', { x1: 138, x2: 147, y1: yp, y2: yp, stroke: '#333', 'stroke-width': 2.6 }, group);
        
        
        const lab = make('text', { x: 131.5, y: yp + 8.7, 'font-size': 25, fill: '#4d4d4d', 'text-anchor': 'end' }, group, panel.tickLabels[i]);
        
        
      }
    });

    categories.forEach(function (c, i) {
      const xp = xCategory(f, i);
      const tick = make('line', { x1: xp, x2: xp, y1: panel.axisY, y2: panel.axisY + 7.5, stroke: '#333', 'stroke-width': 2.6 }, group);
      
      
      const lab = make('text', { x: xp, y: panel.labelY, 'font-size': 31.5, fill: '#4d4d4d', 'text-anchor': 'middle' }, group, c);
      
      
      const pv = make('text', { x: xp, y: panel.pY, 'font-size': 35, fill: '#000', 'text-anchor': 'middle' }, group, facet.p[i]);
      
      
    });

    facet.points.forEach(function (pts, s) {
      const cloud = make('g', {}, group);
      
      
      for (let i = 0; i + 1 < pts.length; i += 2) {
        const dot = make('circle', { cx: xJitter(f, s, pts[i]), cy: panel.y(pts[i + 1]), r: 6.7, fill: pointFills[s % 2], stroke: pointStrokes[s % 2], 'stroke-width': 1.5 }, cloud);
        
        
      }
    });

    facet.medians.forEach(function (m, s) {
      const xp = xGroup(f, s);
      const whisker = make('line', { x1: xp, x2: xp, y1: panel.y(facet.high[s]), y2: panel.y(facet.low[s]), stroke: '#2b2b2b', 'stroke-width': 3.4 }, group);
      
      
      const top = panel.y(facet.q3[s]);
      const box = make('rect', { x: xp - boxWidth / 2, y: top, width: boxWidth, height: panel.y(facet.q1[s]) - top, fill: boxFills[s % 2], stroke: '#333', 'stroke-width': 3.8 }, group);
      
      
      const ym = panel.y(panel.medianTransform(m));
      const bar = make('line', { x1: xp - boxWidth / 2, x2: xp + boxWidth / 2, y1: ym, y2: ym, stroke: '#333', 'stroke-width': 6.5 }, group);
      
      
      const lab = make('text', { x: xp, y: ym - 10, 'font-size': 29, 'font-weight': 'bold', fill: '#fff', 'text-anchor': 'middle' }, group, String(m));
      
      
    });
  });
});
</script>
</body>
</html>
